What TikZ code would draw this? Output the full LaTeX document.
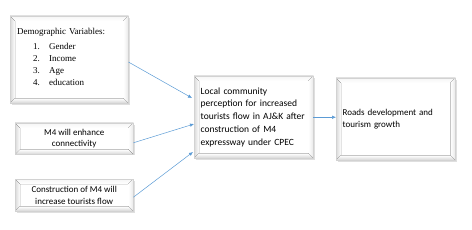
\documentclass[tikz,border=0pt]{standalone}
\usepackage{fontspec}
\setmainfont{Carlito}
\newfontfamily\timesfont{Liberation Serif}
\usepackage{tikz}
\usetikzlibrary{calc,positioning,arrows.meta}
\definecolor{flowblue}{RGB}{91,155,213}

\begin{document}
\begin{tikzpicture}[x=1pt,y=-1pt,
    bevelbox/.style={draw=gray!35,fill=white,anchor=north west,inner sep=6pt,
                     font=\fontsize{9}{11.5}\selectfont},
    flow/.style={-{Latex[length=4pt,width=3.5pt]},flowblue,line width=0.5pt}]
        \useasboundingbox (0,0) rectangle (472,230);
        % shadows
        \fill[gray!25] (12,18) rectangle (130,105);
        \fill[gray!25] (17,125) rectangle (135,155);
        \fill[gray!25] (17,181) rectangle (135,213);
        \fill[gray!25] (196,78) rectangle (315,160);
        \fill[gray!25] (338,80) rectangle (457,162);
        % boxes
        \node[bevelbox,minimum width=118pt,minimum height=87pt,text width=104pt,
              align=left,font=\timesfont\fontsize{9}{12}\selectfont,
              text depth=56pt] (demo) at (10,16)
          {Demographic Variables:\\[3pt]
           \hspace*{16pt}\makebox[16pt][l]{1.}Gender\\
           \hspace*{16pt}\makebox[16pt][l]{2.}Income\\
           \hspace*{16pt}\makebox[16pt][l]{3.}Age\\
           \hspace*{16pt}\makebox[16pt][l]{4.}education};
        \node[bevelbox,minimum width=118pt,minimum height=30pt,align=center] (conn) at (15,123)
          {M4 will enhance\\connectivity};
        \node[bevelbox,minimum width=118pt,minimum height=32pt,align=center] (tour) at (15,179)
          {Construction of M4 will\\increase tourists flow};
        \node[bevelbox,minimum width=119pt,minimum height=82pt,text width=106pt,
              align=left,font=\fontsize{9.5}{12.8}\selectfont] (percep) at (194,76)
          {Local community\\perception for increased\\tourists flow in AJ\&K after\\construction of M4\\expressway under CPEC};
        \node[bevelbox,minimum width=119pt,minimum height=82pt,text width=106pt,
              align=left] (growth) at (336,78)
          {Roads development and\\tourism growth\\[4pt]};
        % bevel edges
        \foreach \n in {demo,conn,tour,percep,growth}{
          \fill[left color=gray!30,right color=white] (\n.north west) -- ++(5,5)
            -- ($(\n.south west)+(5,-5)$) -- (\n.south west) -- cycle;
          \fill[top color=gray!8,bottom color=white] (\n.north west) -- (\n.north east)
            -- ($(\n.north east)+(-5,5)$) -- ($(\n.north west)+(5,5)$) -- cycle;
          \fill[left color=white,right color=gray!18] (\n.north east) -- (\n.south east)
            -- ($(\n.south east)+(-5,-5)$) -- ($(\n.north east)+(-5,5)$) -- cycle;
          \fill[top color=white,bottom color=gray!35] (\n.south west) -- (\n.south east)
            -- ($(\n.south east)+(-5,-5)$) -- ($(\n.south west)+(5,-5)$) -- cycle;
          \draw[gray!35] (\n.north west) rectangle (\n.south east);
        }
        % connectors
        \draw[flow] ($(demo.north east)+(0,46)$) -- ($(percep.north west)+(-2,22)$);
        \draw[flow] ($(conn.east)+(0,4)$) -- ($(percep.north west)+(0,48)$);
        \draw[flow] ($(tour.east)+(0,2)$) -- ($(percep.north west)+(-1,76)$);
        \draw[flow] (percep.east) -- (percep.east -| growth.west);
      \end{tikzpicture}
\end{document}
